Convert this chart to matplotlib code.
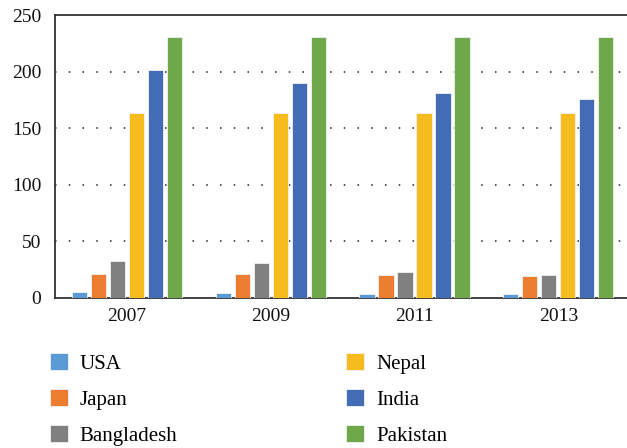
import numpy as np
import matplotlib
matplotlib.use("Agg")
import matplotlib.pyplot as plt

years = ["2007", "2009", "2011", "2013"]
countries = ["USA", "Japan", "Bangladesh", "Nepal", "India", "Pakistan"]
colors = ["#5B9BD5", "#ED7D31", "#808080", "#F6BC1F", "#426CB4", "#6EA84A"]

usa = [4.8, 4.2, 3.7, 3.2]
japan = [21.5, 21, 20, 19]
bangladesh = [33, 31, 23, 20]
nepal = [163, 163, 163, 163]
india = [201.5, 190, 181, 176]
pakistan = [231, 231, 231, 231]
series = [usa, japan, bangladesh, nepal, india, pakistan]

plt.rcParams["font.family"] = ["Liberation Serif", "DejaVu Serif"]

fig = plt.figure(figsize=(6.27, 4.48), dpi=100)
ax = fig.add_axes([0.088, 0.335, 0.917, 0.6315])

x = np.arange(len(years))
step = 0.132
width = 0.106
bars = []
for i, (name, vals) in enumerate(zip(countries, series)):
    b = ax.bar(x + (i - 2.5) * step, vals, width, color=colors[i], label=name,
               edgecolor="#f2f2f2", linewidth=0.6, zorder=3)
    bars.append(b)

ax.set_xlim(-0.5, 3.5)
ax.set_ylim(0, 250)
ax.set_yticks([0, 50, 100, 150, 200, 250])
ax.set_xticks(x)
ax.set_xticklabels(years)
ax.tick_params(axis="both", length=0, labelsize=14, colors="#111111")
ax.tick_params(axis="y", pad=10)
ax.tick_params(axis="x", pad=7)

for yv in [50, 100, 150, 200]:
    ax.axhline(yv, color="#222222", linewidth=1.1, linestyle=(0, (1, 8)), zorder=1)

for s in ["left", "top", "bottom"]:
    ax.spines[s].set_color("#333333")
    ax.spines[s].set_linewidth(1.3)
ax.spines["right"].set_visible(False)

fig.legend(handles=bars, labels=countries, ncol=2, frameon=False,
           loc="upper left", bbox_to_anchor=(50 / 627, 1 - 353 / 448),
           borderaxespad=0, borderpad=0, fontsize=15,
           handlelength=0.87, handleheight=0.87, handletextpad=0.56,
           labelspacing=0.74, columnspacing=8.1)

fig.savefig("out.png", dpi=100)
